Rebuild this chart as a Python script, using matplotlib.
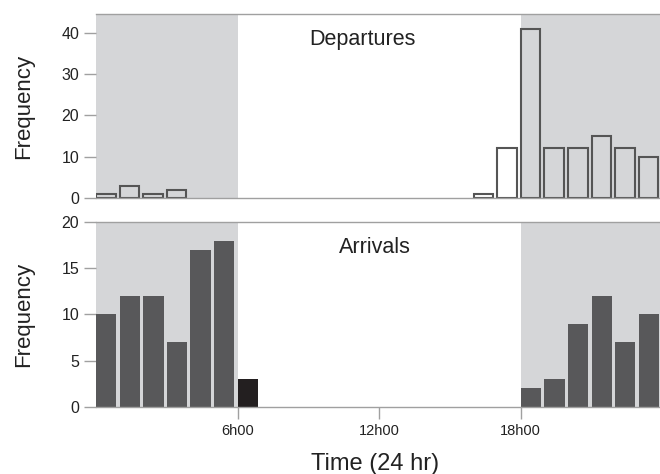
import matplotlib.pyplot as plt

plt.rcParams['font.family'] = ['Liberation Sans', 'DejaVu Sans']

# hourly bins, value = count starting at that hour
hours = list(range(24))
departures = [1, 3, 1, 2, 0, 0, 0, 0, 0, 0, 0, 0,
              0, 0, 0, 0, 1, 12, 41, 12, 12, 15, 12, 10]
arrivals = [10, 12, 12, 7, 17, 18, 3, 0, 0, 0, 0, 0,
            0, 0, 0, 0, 0, 0, 2, 3, 9, 12, 7, 10]
night = [(0, 6), (18, 24)]
xticks = [6, 12, 18]
xtick_labels = ["6h00", "12h00", "18h00"]

shade = "#d5d6d8"
bar_col = "#58585a"
dark_col = "#231f20"
axis_col = "#a0a0a0"

fig = plt.figure(figsize=(6.6, 4.74), dpi=100)
ax1 = fig.add_axes([0.1455, 0.5823, 0.858, 0.3882])
ax2 = fig.add_axes([0.1455, 0.1414, 0.858, 0.3902])

for ax in (ax1, ax2):
    for a, b in night:
        ax.axvspan(a, b, color=shade, lw=0, zorder=0)
    ax.set_xlim(0, 24)
    for s in ("left", "right"):
        ax.spines[s].set_visible(False)
    for s in ("top", "bottom"):
        ax.spines[s].set_color(axis_col)
        ax.spines[s].set_linewidth(1.0)
    ax.tick_params(axis="y", length=9, width=1, color=axis_col, labelsize=11.5, pad=3, labelcolor="#222")
    ax.tick_params(axis="x", length=8.5, width=1, color=axis_col, labelsize=10.5, pad=4, labelcolor="#222")
    ax.set_ylabel("Frequency", fontsize=16, color="#222")
    ax.yaxis.set_label_coords(-0.11, 0.5)

# departures: outlined bars
nz = [(h, v) for h, v in zip(hours, departures) if v > 0]
ax1.bar([h for h, v in nz], [v for h, v in nz], width=0.83, align="edge",
        facecolor="none", edgecolor="#555555", linewidth=1.5, zorder=2)
ax1.set_ylim(0, 44.6)
ax1.set_yticks([0, 10, 20, 30, 40])
ax1.set_xticks([])
ax1.text(11.3, 0.86, "Departures", transform=ax1.get_xaxis_transform(),
         ha="center", va="center", fontsize=15.5, color="#222")

# arrivals: filled bars, first daylight hour in black
cols = [dark_col if h == 6 else bar_col for h in hours]
ax2.bar(hours, arrivals, width=0.86, align="edge", color=cols, linewidth=0, zorder=2)
ax2.set_ylim(0, 20)
ax2.set_yticks([0, 5, 10, 15, 20])
ax2.set_xticks(xticks)
ax2.set_xticklabels(xtick_labels)
ax2.text(11.8, 0.86, "Arrivals", transform=ax2.get_xaxis_transform(),
         ha="center", va="center", fontsize=15.5, color="#222")

fig.text(0.568, 0.022, "Time (24 hr)", ha="center", va="center", fontsize=17, color="#222")

fig.savefig("out.png", dpi=100)
